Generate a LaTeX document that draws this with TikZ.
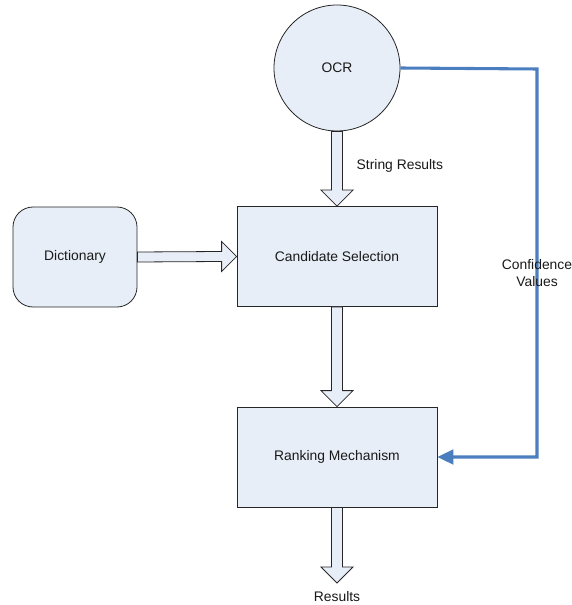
\documentclass[tikz,border=0pt]{standalone}
\usepackage{fontspec}
\setmainfont{Liberation Sans}
\usepackage{tikz}
\usetikzlibrary{calc}
\usetikzlibrary{arrows.meta}

\definecolor{boxfill}{HTML}{E8EEF7}
\definecolor{confblue}{HTML}{4A7EBF}

% hollow block arrow pointing down, from #1 to #2
\newcommand{\hollowdown}[2]{%
\draw [hollow] ($(#1)+(-5.5,0)$) -- ($(#2)+(-5.5,-16)$) -- ($(#2)+(-16,-16)$) -- (#2)
  -- ($(#2)+(16,-16)$) -- ($(#2)+(5.5,-16)$) -- ($(#1)+(5.5,0)$) -- cycle;}

\begin{document}
\begin{tikzpicture}[x=0.75pt, y=-0.75pt,
  every node/.style={font=\fontsize{10.4}{12.5}\selectfont, text=black!90},
  block/.style={rectangle, draw=black!85, fill=boxfill, line width=0.6pt,
    minimum width=150pt, minimum height=75pt, inner sep=0pt},
  hollow/.style={draw=black!85, fill=boxfill, line width=0.6pt, line join=miter}]
\useasboundingbox (0,0) rectangle (571,605);

\node (ocr) at (337,68) [circle, draw=black!85, fill=boxfill, line width=0.6pt, minimum size=94.5pt, inner sep=0pt] {OCR};
\node (cand) at (337,256.5) [block] {Candidate Selection};
\node (rank) at (337,457) [block] {Ranking Mechanism};
\node (dict) at (75,257) [block, rounded corners=15pt, minimum width=93pt] {Dictionary};
\coordinate (res) at (337,583);
\coordinate (turn) at (537,69);

\hollowdown{ocr.south}{cand.north}
\hollowdown{cand.south}{rank.north}
\hollowdown{rank.south}{res}

\draw [hollow] ($(dict.east)+(0,-5)$) -- ($(cand.west)+(-15,-5)$) -- ($(cand.west)+(-15,-15)$) -- (cand.west)
  -- ($(cand.west)+(-15,15)$) -- ($(cand.west)+(-15,5)$) -- ($(dict.east)+(0,5)$) -- cycle;

\draw [confblue, line width=2.3pt, -{Triangle[length=12pt,width=11pt]}] (ocr.east) -- (turn) |- (rank.east);

\node (strres) at (352,166) [anchor=west] {String Results};
\node (conf) at (537,273) [align=center] {Confidence\\Values};
\node (reslabel) at (337,597) {Results};
\end{tikzpicture}
\end{document}
